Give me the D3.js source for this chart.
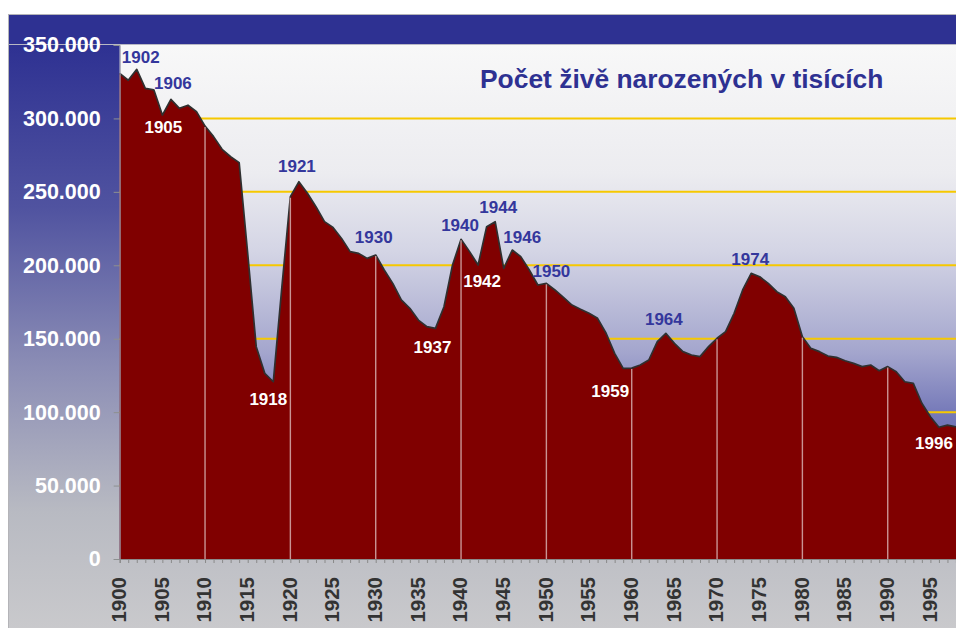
<!DOCTYPE html>
<html>
<head>
<meta charset="utf-8">
<script src="https://cdn.jsdelivr.net/npm/d3@7"></script>
<style>
  html, body { margin: 0; padding: 0; background: #ffffff; }
  svg { display: block; }
  text { font-family: "Liberation Sans", Arial, sans-serif; }
</style>
</head>
<body>
<svg id="chart" width="956" height="628"></svg>
<script>
// ---- data ----
const years = d3.range(1900, 1999);
const births = [
  330.7, 326.0, 333.4, 320.5, 319.5, 302.3, 313.0, 306.9, 309.0, 304.6,
  294.8, 287.6, 279.0, 273.9, 269.9, 208.0, 144.6, 126.4, 120.7, 185.0,
  246.7, 256.9, 249.0, 239.9, 229.7, 225.8, 218.3, 209.3, 208.1, 204.7,
  207.0, 196.8, 187.7, 176.4, 170.7, 162.7, 158.2, 157.0, 171.8, 200.2,
  217.7, 209.3, 200.2, 226.3, 229.7, 197.9, 210.4, 205.9, 196.8, 186.6,
  187.7, 183.2, 178.2, 172.9, 170.0, 167.3, 163.9, 153.7, 140.0, 129.8,
  130.0, 132.1, 135.5, 148.0, 153.7, 146.8, 141.2, 138.9, 137.8, 144.6,
  150.3, 154.8, 167.3, 183.2, 194.5, 192.2, 187.7, 182.0, 178.6, 170.7,
  151.4, 143.4, 141.2, 138.2, 137.3, 135.0, 133.2, 131.0, 132.1, 128.2,
  131.0, 127.5, 120.7, 119.6, 106.0, 96.9, 89.7, 91.2, 90.0
];
const yTicks = [0, 50, 100, 150, 200, 250, 300, 350];
const gridValues = [50, 100, 150, 200, 250, 300];
const decadeYears = [1910, 1920, 1930, 1940, 1950, 1960, 1970, 1980, 1990];
const peakYears = [1902, 1906, 1921, 1930, 1940, 1944, 1946, 1950, 1964, 1974];
const dipYears = [1905, 1918, 1937, 1942, 1959, 1996];
const title = "Počet živě narozených v tisících";

// ---- layout ----
const svg = d3.select("#chart");
const plot = { left: 119.7, right: 956, top: 45, bottom: 559 };
const x = d3.scaleLinear().domain([1900, 1998]).range([plot.left, plot.right]);
const y = d3.scaleLinear().domain([0, 350]).range([plot.bottom, plot.top]);
const data = years.map((yr, i) => ({ year: yr, value: births[i] }));
const valueOf = yr => births[years.indexOf(yr)];

// label nudges (px) relative to the data point
const peakOffset = { 1902: [4, -6], 1906: [2, -10], 1921: [-2, -10], 1930: [-2, -12], 1940: [-1, -8],
  1944: [3, -9], 1946: [10, -7], 1950: [5, -6], 1964: [-2, -8], 1974: [-1, -8] };
const dipOffset = { 1905: [1, 18], 1918: [-5, 23], 1937: [-3, 25], 1942: [4, 22], 1959: [-13, 29], 1996: [-5, 22] };

// ---- gradients ----
const defs = svg.append("defs");
const bg = defs.append("linearGradient").attr("id", "bgGrad")
  .attr("gradientUnits", "userSpaceOnUse").attr("x1", 0).attr("x2", 0).attr("y1", 44).attr("y2", 628);
[[0, "#2e3192"], [0.28, "#5053a0"], [0.55, "#8b8db5"], [0.8, "#b8bac2"], [1, "#c9c9cc"]]
  .forEach(([o, c]) => bg.append("stop").attr("offset", o).attr("stop-color", c));
const pg = defs.append("linearGradient").attr("id", "plotGrad")
  .attr("gradientUnits", "userSpaceOnUse").attr("x1", 0).attr("x2", 0).attr("y1", plot.top).attr("y2", plot.bottom);
[[0, "#f8f8f8"], [0.25, "#ececf0"], [0.4, "#d4d5e5"], [0.6, "#a3a5cd"], [0.72, "#7478b8"], [1, "#4b4ea2"]]
  .forEach(([o, c]) => pg.append("stop").attr("offset", o).attr("stop-color", c));

// ---- frame ----
svg.append("rect").attr("x", 8.5).attr("y", 14.5).attr("width", 960).attr("height", 620)
  .attr("fill", "url(#bgGrad)").attr("stroke", "#b4b4b8").attr("stroke-width", 1);
svg.append("rect").attr("x", 9).attr("y", 15).attr("width", 947).attr("height", 29).attr("fill", "#2e3192");
svg.append("line").attr("x1", 9).attr("x2", 956).attr("y1", 44.5).attr("y2", 44.5).attr("stroke", "#b8b8c4");
svg.append("rect").attr("x", plot.left).attr("y", plot.top)
  .attr("width", plot.right - plot.left).attr("height", plot.bottom - plot.top)
  .attr("fill", "url(#plotGrad)");

// ---- gridlines ----
svg.append("g").selectAll("line").data(gridValues).join("line")
  .attr("x1", plot.left).attr("x2", plot.right)
  .attr("y1", d => y(d)).attr("y2", d => y(d))
  .attr("stroke", "#f6c800").attr("stroke-width", 2);

// ---- area ----
const area = d3.area().x(d => x(d.year)).y0(y(0)).y1(d => y(d.value));
const line = d3.line().x(d => x(d.year)).y(d => y(d.value));
svg.append("path").datum(data).attr("d", area).attr("fill", "#800000");
svg.append("path").datum(data).attr("d", line).attr("fill", "none")
  .attr("stroke", "#2f3030").attr("stroke-width", 1.7).attr("stroke-linejoin", "round");

// decade lines inside the area
svg.append("g").selectAll("line").data(decadeYears).join("line")
  .attr("x1", d => x(d)).attr("x2", d => x(d))
  .attr("y1", d => y(valueOf(d)) + 1).attr("y2", y(0))
  .attr("stroke", "#c99494").attr("stroke-width", 1.4);

// ---- axes ----
const yAxis = d3.axisLeft(y).tickValues(yTicks).tickSize(6).tickPadding(13)
  .tickFormat(d => d === 0 ? "0" : d3.format(",")(d * 1000).replace(/,/g, "."));
const gy = svg.append("g").attr("transform", `translate(${plot.left},0)`).call(yAxis);
gy.select(".domain").attr("stroke", "#9a9aa8");
gy.selectAll(".tick line").attr("stroke", "#8d9090");
gy.selectAll("text").attr("fill", "#ffffff").attr("font-size", 21.5).attr("font-weight", "bold")
  .attr("font-family", "'Liberation Sans', Arial, sans-serif");

const xAxis = d3.axisBottom(x).tickValues(years).tickSize(4).tickPadding(0)
  .tickFormat(d => d % 5 === 0 ? String(d) : "");
const gx = svg.append("g").attr("transform", `translate(0,${plot.bottom})`).call(xAxis);
gx.select(".domain").attr("stroke", "#8a8a8a").attr("stroke-width", 1.2);
gx.selectAll(".tick line").attr("stroke", "#8a8a8a");
gx.selectAll("text")
  .attr("font-size", 20.5).attr("font-weight", "bold").attr("fill", "#333333")
  .attr("font-family", "'Liberation Sans', Arial, sans-serif")
  .attr("text-anchor", "end")
  .attr("transform", "translate(0,18) rotate(-90)")
  .attr("x", 0).attr("y", 0).attr("dy", "0.28em");

// ---- title ----
svg.append("text").attr("x", 480).attr("y", 88)
  .attr("font-size", 26.4).attr("font-weight", "bold").attr("fill", "#2e3192")
  .text(title);

// ---- annotations ----
svg.append("g").selectAll("text").data(peakYears).join("text")
  .attr("x", d => x(d) + peakOffset[d][0]).attr("y", d => y(valueOf(d)) + peakOffset[d][1])
  .attr("text-anchor", "middle").attr("font-size", 17).attr("font-weight", "bold")
  .attr("fill", "#34379c").text(d => d);
svg.append("g").selectAll("text").data(dipYears).join("text")
  .attr("x", d => x(d) + dipOffset[d][0]).attr("y", d => y(valueOf(d)) + dipOffset[d][1])
  .attr("text-anchor", "middle").attr("font-size", 17).attr("font-weight", "bold")
  .attr("fill", "#ffffff").text(d => d);
</script>
</body>
</html>
